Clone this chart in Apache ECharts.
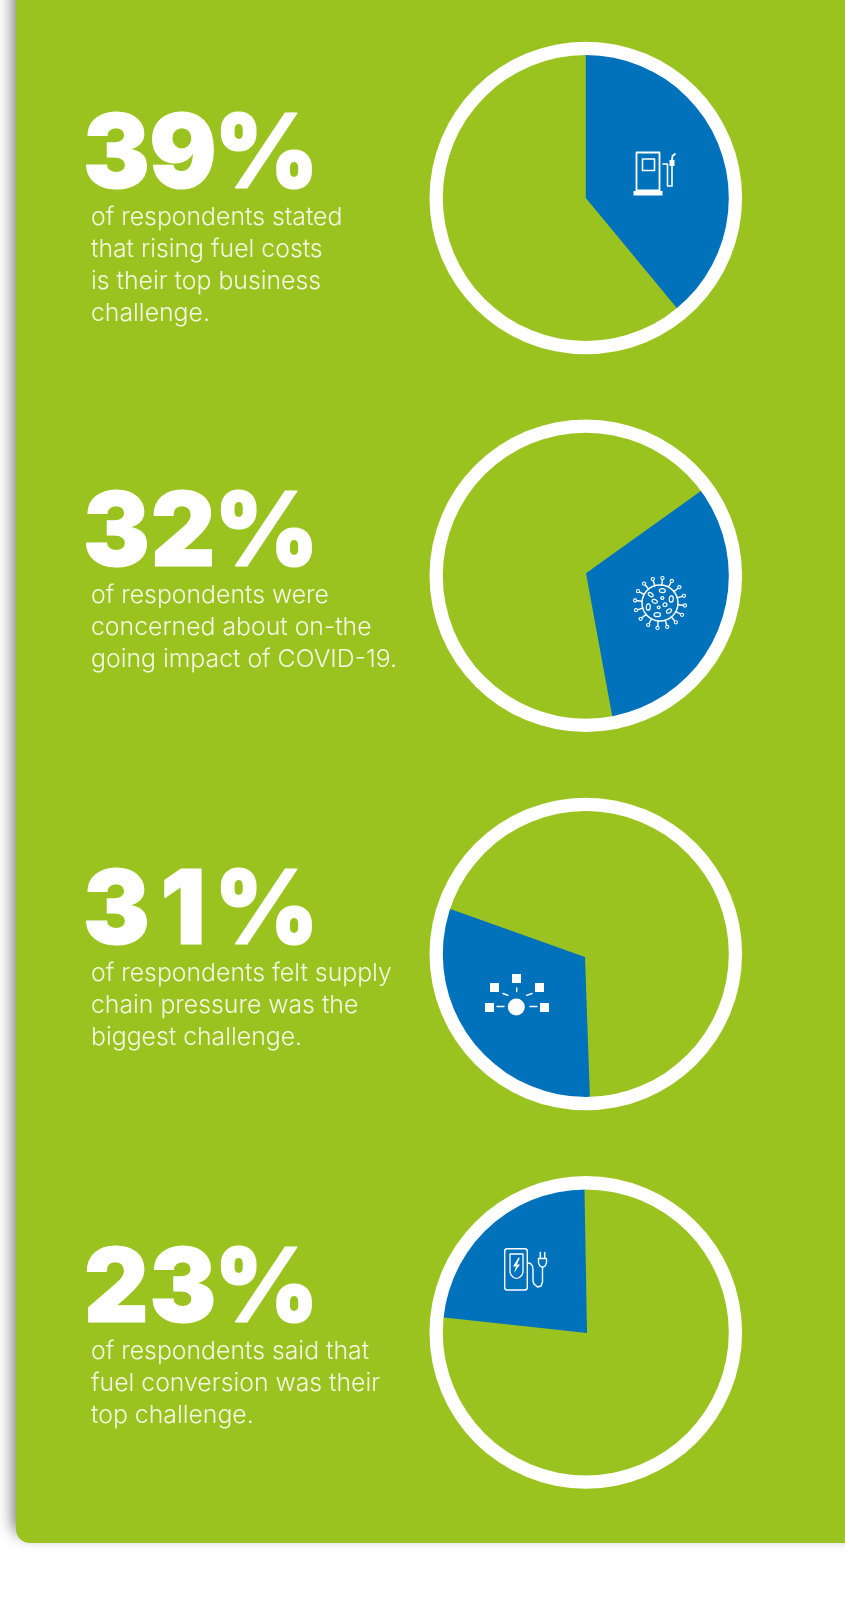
<!DOCTYPE html>
<html>
<head>
<meta charset="utf-8">
<style>html,body{margin:0;padding:0;background:#fff}#chart{width:845px;height:1600px}</style>
<script src="https://cdn.jsdelivr.net/npm/echarts@6/dist/echarts.min.js"></script>
</head>
<body>
<div id="chart"></div>
<script>
// Survey results: share of respondents naming each challenge
const shares = [39, 32, 31, 23];
const headlines = ['39%', '32%', '31%', '23%'];
const descriptions = [
  ['of respondents stated', 'that rising fuel costs', 'is their top business', 'challenge.'],
  ['of respondents were', 'concerned about on-the', 'going impact of COVID-19.'],
  ['of respondents felt supply', 'chain pressure was the', 'biggest challenge.'],
  ['of respondents said that', 'fuel conversion was their', 'top challenge.']
];
// Clockwise rotation of each wedge's leading edge, in degrees from twelve o'clock
const rotations = [0, 54.4, 178, 276.2];

const GREEN = '#9bc31f', BLUE = '#0072bc', WHITE = '#ffffff';
const ringX = 585.8, ringY = [198, 575.7, 954, 1332.4];
const apexX = [585.8, 586, 585, 587];
const apexY = [198, 573.3, 957, 1333];
const headlineTop = [106, 484, 862, 1240];
// Centres of the fixed-width slots that keep the headline digits aligned
const slotCentres = [116.3, 183, 266.5];

const series = [];
shares.forEach((v, i) => {
  series.push({
    type: 'pie', silent: true, z: 2, animation: false,
    center: [apexX[i], apexY[i]], radius: [0, 146],
    startAngle: 90 - rotations[i], clockwise: true,
    label: { show: false }, labelLine: { show: false },
    data: [
      { value: v, itemStyle: { color: BLUE } },
      { value: 100 - v, itemStyle: { color: 'transparent' } }
    ]
  });
  series.push({
    type: 'pie', silent: true, z: 3, animation: false,
    center: [ringX, ringY[i]], radius: [143, 156.3],
    label: { show: false }, labelLine: { show: false },
    data: [{ value: 1, itemStyle: { color: WHITE } }]
  });
});

const Z = 10;
const stroke = w => ({ stroke: WHITE, lineWidth: w, fill: null, lineJoin: 'round', lineCap: 'round' });
const line = (pts, w, smooth) => ({ type: 'polyline', z: Z, shape: { points: pts, smooth: smooth || 0 }, style: stroke(w) });
const box = (x, y, w, h, lw, r) => ({
  type: 'rect', z: Z, shape: { x, y, width: w, height: h, r: r || 0 },
  style: lw ? stroke(lw) : { fill: WHITE }
});
const dot = (cx, cy, r, lw) => ({
  type: 'circle', z: Z, shape: { cx, cy, r },
  style: lw ? stroke(lw) : { fill: WHITE }
});
const oval = (cx, cy, rx, ry, rot) => ({
  type: 'ellipse', z: Z, x: cx, y: cy, rotation: rot, shape: { cx: 0, cy: 0, rx, ry },
  style: stroke(1.2)
});

// Fuel pump
const pumpIcon = [
  box(636.5, 152.5, 23, 38, 1.8),
  box(633.5, 191, 29, 4.5),
  box(642.5, 159, 12, 11.5, 1.6),
  line([[663, 164], [667.5, 164], [667.5, 186], [672, 186], [672, 164]], 1.6),
  box(669.5, 160, 5, 6),
  line([[672, 160], [672.5, 156], [675, 154]], 1.8)
];

// Virus particle
const virusIcon = (() => {
  const cx = 660, cy = 603, out = [dot(cx, cy, 18, 1.5)];
  for (let k = 0; k < 16; k++) {
    const a = k * Math.PI / 8 + 0.1, c = Math.cos(a), s = Math.sin(a);
    out.push(line([[cx + 18 * c, cy + 18 * s], [cx + 23 * c, cy + 23 * s]], 1.4));
    out.push(dot(cx + 25 * c, cy + 25 * s, 1.6, 1.1));
  }
  [[2.3, -12.3, 3, 2, 0], [-9.3, -8.3, 2.8, 1.7, -0.6], [-5.3, -1.7, 2.8, 1.8, -0.4], [2.3, -5, 1.6, 1.4, 0],
   [11.3, -4, 3.2, 2, 1.5], [-11.7, 4, 3.2, 2, 1.5], [-1.3, 4.3, 1.4, 1.3, 0], [5, 1.7, 2, 1.8, 0],
   [9, 8, 2.8, 1.8, 0.6], [-2.7, 11.7, 3.2, 2, 0]].forEach(o => out.push(oval(cx + o[0], cy + o[1], o[2], o[3], o[4])));
  return out;
})();

// Supply network
const networkIcon = [
  box(512, 974, 9, 9), box(490, 983, 9, 9), box(535, 983, 9, 9),
  box(485, 1003, 9, 9), box(540, 1003, 9, 9), dot(516.3, 1007, 8.5),
  line([[497, 1006.5], [504, 1006.5]], 1.4), line([[530, 1006.5], [537, 1006.5]], 1.4),
  line([[516.7, 988], [516.7, 991.5]], 1.4),
  line([[503, 993.5], [508, 995.3]], 1.4), line([[526.5, 995.3], [532, 993.5]], 1.4)
];

// Charging point
const chargerIcon = [
  box(504.7, 1248.7, 22.6, 41.3, 1.4, 2.5),
  line([[510, 1254], [523, 1254], [523, 1272], [522, 1275], [519.5, 1277.5], [516.5, 1278.5], [513.5, 1277.5], [511, 1275], [510, 1272], [510, 1254]], 1.3),
  { type: 'polygon', z: Z, shape: { points: [[518.5, 1257.5], [513, 1266.5], [516, 1266.5], [514, 1273], [520, 1264.5], [517, 1264.5], [519.8, 1258]] }, style: { fill: WHITE } },
  line([[528, 1263], [530.5, 1263.5], [532.5, 1266], [533, 1270], [533, 1281], [534, 1284], [537.5, 1287], [541, 1286], [542.5, 1282], [542.5, 1267]], 1.4),
  line([[538.5, 1258.5], [546.5, 1258.5], [546.5, 1263], [545, 1266], [542.5, 1267.5], [540, 1266], [538.5, 1263], [538.5, 1258.5]], 1.4),
  line([[540.3, 1252.5], [540.3, 1258]], 1.5), line([[544.7, 1252.5], [544.7, 1258]], 1.5)
];

const textEls = [];
headlines.forEach((h, i) => {
  Array.from(h).forEach((ch, k) => {
    textEls.push({
      type: 'text', z: Z, x: slotCentres[k], y: headlineTop[i], scaleX: 0.97,
      style: {
        text: ch, fill: WHITE, stroke: WHITE, lineWidth: 1.2, align: 'center',
        font: '900 103px Inter, "Liberation Sans", sans-serif'
      }
    });
  });
  descriptions[i].forEach((t, j) => {
    textEls.push({
      type: 'text', z: Z, x: 91, y: headlineTop[i] + 99 + j * 32,
      style: {
        text: t, fill: '#f4f8e4',
        font: '300 24.8px Inter, Roboto, sans-serif'
      }
    });
  });
});

const chart = echarts.init(document.getElementById('chart'), null, { renderer: 'canvas' });
chart.setOption({
  backgroundColor: '#ffffff',
  animation: false,
  graphic: { elements: [
    {
      type: 'rect', z: -10, silent: true,
      shape: { x: 16, y: -40, width: 900, height: 1583, r: [0, 0, 0, 14] },
      style: { fill: GREEN, shadowColor: 'rgba(0,0,0,0.55)', shadowBlur: 16, shadowOffsetX: -3, shadowOffsetY: -8 }
    },
    ...pumpIcon, ...virusIcon, ...networkIcon, ...chargerIcon, ...textEls
  ] },
  series
});
</script>
</body>
</html>
